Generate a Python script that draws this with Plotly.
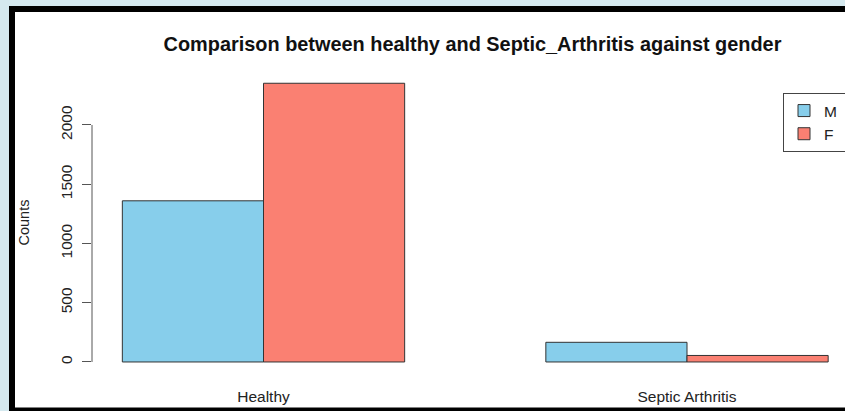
import plotly.graph_objects as go

# Counts by diagnosis and gender
categories = ["Healthy", "Septic Arthritis"]
male_counts = [1360, 166]
female_counts = [2352, 55]
y_ticks = [0, 500, 1000, 1500, 2000]

W, H = 845, 411
ML, MR, MT, MB = 92, 0, 72, 38
PW, PH = W - ML - MR, H - MT - MB


def px_x(px):
    return (px - ML) / PW


def px_y(py):
    return (H - MB - py) / PH


FONT = "Liberation Sans, Arial, sans-serif"
PAD = "\u00a0" * 3  # widen the legend box so it runs off the right edge

fig = go.Figure()
fig.add_trace(go.Bar(
    x=categories, y=male_counts, name="M" + PAD,
    marker=dict(color="#87CEEB", line=dict(color="#333333", width=1)),
))
fig.add_trace(go.Bar(
    x=categories, y=female_counts, name="F" + PAD,
    marker=dict(color="#FA8072", line=dict(color="#333333", width=1)),
))

shapes = [
    # window frame
    dict(type="rect", xref="paper", yref="paper", layer="below",
         x0=px_x(9), x1=px_x(860), y0=px_y(6), y1=px_y(420),
         fillcolor="black", line=dict(width=0)),
    dict(type="rect", xref="paper", yref="paper", layer="below",
         x0=px_x(15), x1=px_x(860), y0=px_y(12), y1=px_y(407.5),
         fillcolor="white", line=dict(width=0)),
    # y axis line spanning the tick range only
    dict(type="line", xref="paper", yref="y",
         x0=0, x1=0, y0=y_ticks[0], y1=y_ticks[-1],
         line=dict(color="#555555", width=1)),
]

fig.update_layout(
    width=W, height=H,
    margin=dict(l=ML, r=MR, t=MT, b=MB, autoexpand=False),
    paper_bgcolor="#d5e9ef",
    plot_bgcolor="rgba(0,0,0,0)",
    font=dict(family=FONT, color="#222222"),
    barmode="group", bargap=1/3, bargroupgap=0,
    shapes=shapes,
    title=dict(text="<b>Comparison between healthy and Septic_Arthritis against gender</b>",
               x=472.5 / W, xanchor="center", y=1 - 44 / H, yanchor="middle",
               xref="container", yref="container",
               font=dict(size=19.9, color="#111111", family=FONT)),
    showlegend=True,
    legend=dict(x=px_x(783), y=px_y(93), xanchor="left", yanchor="top",
                bordercolor="#444444", borderwidth=1, bgcolor="white",
                font=dict(size=15.5, color="#222222", family=FONT),
                traceorder="normal"),
)

fig.update_xaxes(
    range=[(ML - 263.5) / 423.5, (W - 263.5) / 423.5],
    showgrid=False, showline=False, zeroline=False,
    ticks="", tickfont=dict(size=15.5, color="#222222"),
    ticklabelstandoff=12,
)
fig.update_yaxes(
    range=[-93, 2447],
    tickvals=y_ticks, ticktext=[str(v) for v in y_ticks],
    showgrid=False, showline=False, zeroline=False,
    ticks="outside", ticklen=9, tickcolor="#555555", tickwidth=1,
    tickangle=-90, tickfont=dict(size=15.5, color="#222222"),
    ticklabelstandoff=4,
    title=dict(text="Counts", font=dict(size=14.5, color="#222222"), standoff=24),
)

fig.write_html("out.html")
